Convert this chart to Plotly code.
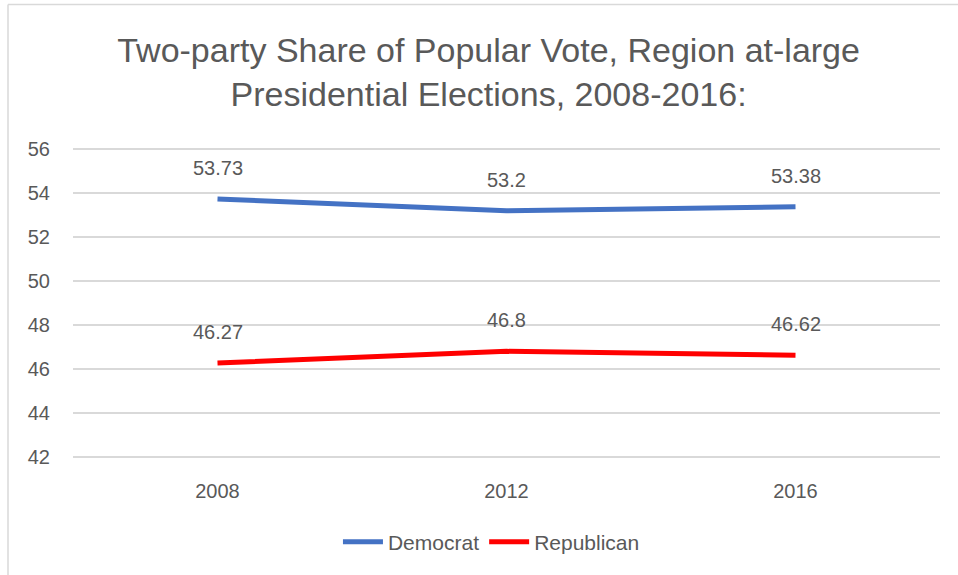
import plotly.graph_objects as go

years = ["2008", "2012", "2016"]
democrat = [53.73, 53.2, 53.38]
republican = [46.27, 46.8, 46.62]
democrat_labels = ["53.73", "53.2", "53.38"]
republican_labels = ["46.27", "46.8", "46.62"]
y_ticks = [42, 44, 46, 48, 50, 52, 54, 56]

FONT = "Liberation Sans, Arial, sans-serif"
TXT = "#595959"

fig = go.Figure()
fig.add_trace(go.Scatter(
    x=years, y=democrat, name="Democrat", mode="lines",
    line=dict(color="#4472C4", width=5),
))
fig.add_trace(go.Scatter(
    x=years, y=republican, name="Republican", mode="lines",
    line=dict(color="#FF0000", width=5),
))

# data labels above points (x given as category index)
for ys, labels in [(democrat, democrat_labels), (republican, republican_labels)]:
    for i, (yv, lb) in enumerate(zip(ys, labels)):
        fig.add_annotation(x=i, y=yv, xref="x", yref="y", text=lb, showarrow=False,
                           xanchor="center", yanchor="middle", yshift=31,
                           font=dict(size=20, color=TXT, family=FONT))

YMIN, YMAX, PAD = 42, 56, 0.1
W, H = 958, 575
px_per_unit = (457 - 149) / (YMAX - YMIN)
L, R = 73, 18
T = 149 - PAD * px_per_unit
B = (H - 457) - PAD * px_per_unit
pw, ph = W - L - R, H - T - B

fig.update_layout(
    width=W, height=H,
    margin=dict(l=L, r=R, t=T, b=B),
    paper_bgcolor="white", plot_bgcolor="white",
    font=dict(family=FONT, color=TXT, size=20),
    title=dict(
        text="Two-party Share of Popular Vote, Region at-large<br>Presidential Elections, 2008-2016:",
        x=0.51, xref="container", xanchor="center",
        y=(575 - 62) / 575, yref="container", yanchor="middle",
        font=dict(size=34, color=TXT, family=FONT),
    ),
    showlegend=True,
    legend=dict(
        orientation="h", x=0.513, xref="container", xanchor="center",
        y=(575 - 542) / 575, yref="container", yanchor="middle",
        font=dict(size=21, color=TXT, family=FONT),
        itemwidth=40, itemsizing="constant",
    ),
    xaxis=dict(
        type="category", range=[-0.5, 2.5], showgrid=False, zeroline=False,
        showline=False, ticks="", ticklabelstandoff=int(round(16 + PAD * px_per_unit)),
        tickfont=dict(size=20, color=TXT, family=FONT),
    ),
    yaxis=dict(
        range=[YMIN - PAD, YMAX + PAD], tickvals=y_ticks, showgrid=True,
        gridcolor="#D9D9D9", gridwidth=1.5, zeroline=False, showline=False,
        ticks="", ticklabelstandoff=22, tickfont=dict(size=20, color=TXT, family=FONT),
    ),
)

# chart frame (left and top edges)
fig.add_shape(type="line", xref="paper", yref="paper",
              x0=(8 - L) / pw, x1=(8 - L) / pw, y0=1 + (T - 4) / ph, y1=-(B + 10) / ph,
              line=dict(color="#D9D9D9", width=1.5))
fig.add_shape(type="line", xref="paper", yref="paper",
              x0=(8 - L) / pw, x1=1 + (R + 10) / pw, y0=1 + (T - 4) / ph, y1=1 + (T - 4) / ph,
              line=dict(color="#D9D9D9", width=1.5))

fig.write_html("out.html")
